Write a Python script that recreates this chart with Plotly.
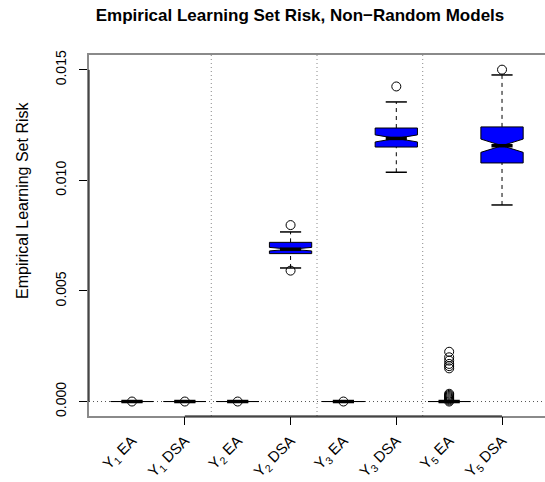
import plotly.graph_objects as go

# Category labels and box positions
labels = ["Y<sub>1</sub> EA", "Y<sub>1</sub> DSA", "Y<sub>2</sub> EA", "Y<sub>2</sub> DSA",
          "Y<sub>3</sub> EA", "Y<sub>3</sub> DSA", "Y<sub>5</sub> EA", "Y<sub>5</sub> DSA"]
positions = [1, 2, 3, 4, 5, 6, 7, 8]

# Five-number summaries of the empirical learning set risk
lower_whisker = [0.0, 0.0, 0.0, 0.00604, 0.0, 0.01037, 0.0, 0.00889]
q1 = [0.0, 0.0, 0.0, 0.00669, 0.0, 0.01151, 0.0, 0.01079]
median = [0.0, 0.0, 0.0, 0.00689, 0.0, 0.01190, 0.0, 0.01157]
q3 = [0.0, 0.0, 0.0, 0.00720, 0.0, 0.01237, 0.0, 0.01242]
upper_whisker = [0.0, 0.0, 0.0, 0.00767, 0.0, 0.01355, 0.0, 0.01477]
notch_half = [0.0, 0.0, 0.0, 0.00008, 0.0, 0.00016, 0.0, 0.00030]
outliers = [
    [0.0],
    [0.0],
    [0.0],
    [0.00592, 0.00798],
    [0.0],
    [0.01425],
    [0.0, 0.00005, 0.0001, 0.00015, 0.0002, 0.00025, 0.0003, 0.00035,
     0.00150, 0.00160, 0.00170, 0.00185, 0.00200, 0.00225],
    [0.01501],
]

# Dotted separators between model groups
separators = [2.5, 4.5, 6.5]
y_ticks = [0.0, 0.005, 0.010, 0.015]
y_tick_text = ["0.000", "0.005", "0.010", "0.015"]
x_tick_marks = [2, 4, 6, 8]

BOX_W = 0.8
NOTCH_FRAC = 0.5
STAPLE = 0.5
FONT = "Liberation Sans, Arial, Helvetica, sans-serif"

fig = go.Figure()

# Dashed whiskers
wx, wy = [], []
for p, lo, a, b, hi in zip(positions, lower_whisker, q1, q3, upper_whisker):
    wx += [p, p, None, p, p, None]
    wy += [lo, a, None, b, hi, None]
fig.add_trace(go.Scatter(x=wx, y=wy, mode="lines", hoverinfo="skip",
                         line=dict(color="black", width=1, dash="4px,4px"),
                         showlegend=False))

# Whisker staples
sx, sy = [], []
half_staple = BOX_W * STAPLE / 2
for p, lo, hi in zip(positions, lower_whisker, upper_whisker):
    sx += [p - half_staple, p + half_staple, None, p - half_staple, p + half_staple, None]
    sy += [lo, lo, None, hi, hi, None]
fig.add_trace(go.Scatter(x=sx, y=sy, mode="lines", hoverinfo="skip",
                         line=dict(color="black", width=1.5),
                         showlegend=False))

# Notched boxes
fig.add_trace(go.Box(
    x=positions, q1=q1, median=median, q3=q3,
    lowerfence=q1, upperfence=q3,
    notched=True, notchspan=notch_half, notchwidth=NOTCH_FRAC,
    width=BOX_W, whiskerwidth=0,
    fillcolor="#0000FF", line=dict(color="black", width=1),
    boxpoints=False, showlegend=False, hoverinfo="skip",
))

# Heavy median bars
mx, my = [], []
half_med = BOX_W * NOTCH_FRAC / 2
for p, m in zip(positions, median):
    mx += [p - half_med, p + half_med, None]
    my += [m, m, None]
fig.add_trace(go.Scatter(x=mx, y=my, mode="lines", hoverinfo="skip",
                         line=dict(color="black", width=3.5),
                         showlegend=False))

# Outlying points
ox, oy = [], []
for p, vals in zip(positions, outliers):
    for v in vals:
        ox.append(p)
        oy.append(v)
fig.add_trace(go.Scatter(x=ox, y=oy, mode="markers", hoverinfo="skip",
                         marker=dict(symbol="circle-open", size=9, color="black",
                                     line=dict(width=1, color="black")),
                         showlegend=False))

# Invisible trace so the tick-mark axis is rendered
fig.add_trace(go.Scatter(x=[positions[0]], y=[0], xaxis="x2", mode="markers",
                         marker=dict(opacity=0), showlegend=False, hoverinfo="skip"))

shapes = []
for s in separators:
    shapes.append(dict(type="line", xref="x", yref="paper", x0=s, x1=s, y0=0, y1=1,
                       line=dict(color="#888888", width=1, dash="1px,3px"), layer="below"))
shapes.append(dict(type="line", xref="paper", yref="y", x0=0, x1=1, y0=0, y1=0,
                   line=dict(color="#555555", width=1, dash="1px,3px"), layer="below"))
# Black axis lines spanning the tick range
shapes.append(dict(type="line", xref="paper", yref="y", x0=0, x1=0,
                   y0=y_ticks[0], y1=y_ticks[-1], line=dict(color="black", width=1)))
shapes.append(dict(type="line", xref="x", yref="paper", x0=x_tick_marks[0], x1=x_tick_marks[-1],
                   y0=0, y1=0, line=dict(color="black", width=1)))

x_range = [0.187, 8.813]
fig.update_layout(
    width=545, height=482,
    margin=dict(l=89, r=0, t=55, b=66),
    paper_bgcolor="white", plot_bgcolor="white",
    font=dict(family=FONT, size=14, color="black"),
    title=dict(text="<b>Empirical Learning Set Risk, Non\u2212Random Models</b>",
               x=300 / 545, xanchor="center", y=1 - 15 / 482, yanchor="middle",
               font=dict(size=17, family=FONT, color="black")),
    xaxis=dict(range=x_range, tickvals=positions, ticktext=labels, tickangle=-45,
               ticks="", showgrid=False, zeroline=False,
               showline=True, linecolor="#8a8a8a", linewidth=2, mirror=True,
               tickfont=dict(size=15), ticklabelstandoff=8),
    xaxis2=dict(range=x_range, overlaying="x", anchor="y", side="bottom",
                tickvals=x_tick_marks, showticklabels=False, ticks="outside",
                ticklen=8, tickcolor="black", showgrid=False, zeroline=False,
                showline=False),
    yaxis=dict(range=[-0.000655, 0.015673], tickvals=y_ticks, ticktext=y_tick_text,
               tickangle=-90, ticks="outside", ticklen=8, tickcolor="black",
               showgrid=False, zeroline=False, showline=True,
               linecolor="#8a8a8a", linewidth=2, tickfont=dict(size=14),
               ticklabelstandoff=7),
    shapes=shapes,
    annotations=[dict(text="Empirical Learning Set Risk", textangle=-90,
                      xref="paper", yref="paper", x=(22 - 89) / 456,
                      y=(416 - 200) / 361,
                      xanchor="center", yanchor="middle", showarrow=False,
                      font=dict(size=16, family=FONT))],
)

fig.write_html("out.html")
